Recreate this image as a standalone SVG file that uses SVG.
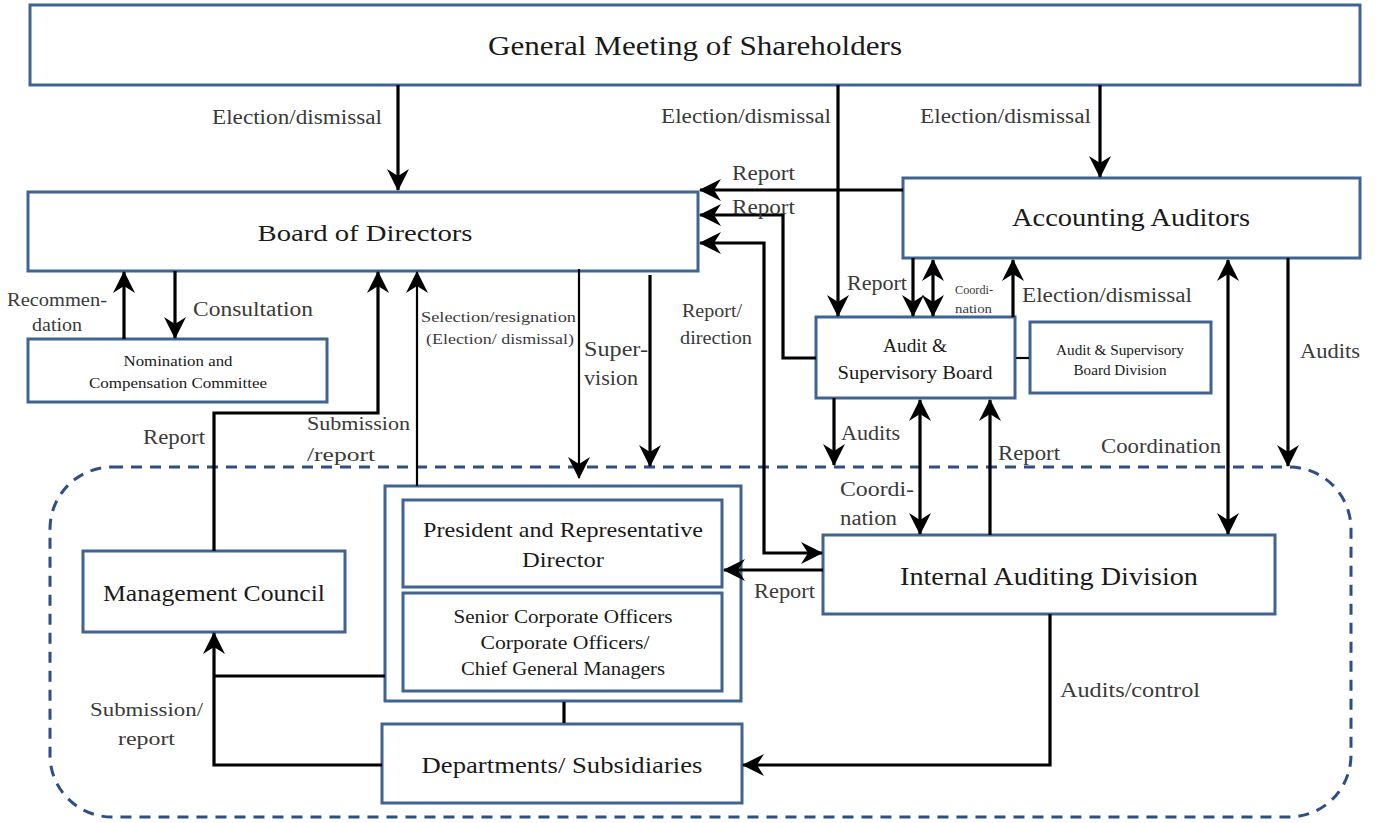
<svg xmlns="http://www.w3.org/2000/svg" width="1378" height="823" viewBox="0 0 1378 823">
<style>
.box{fill:#fff;stroke:#3f6494;stroke-width:3}
.t{font-family:"Liberation Serif","DejaVu Serif",serif;fill:#1a1a1a;text-anchor:middle}
.l{font-family:"Liberation Serif","DejaVu Serif",serif;fill:#3a3a3a}
.c{fill:none;stroke:#000;stroke-width:3.2}
.thin{stroke-width:2.2}
.a{marker-end:url(#ah)}
.b{marker-start:url(#ah);marker-end:url(#ah)}
</style>
<defs>
<marker id="ah" viewBox="0 0 22 24" refX="21" refY="12" markerWidth="22" markerHeight="24" markerUnits="userSpaceOnUse" orient="auto-start-reverse">
<path d="M0,1 L22,12 L0,23 L7,12 z" fill="#000"/>
</marker>
</defs>
<rect x="0" y="0" width="1378" height="823" fill="#fff"/>

<g id="scope">
<rect x="50" y="467" width="1301" height="350" rx="62" ry="62" fill="none" stroke="#2b4f86" stroke-width="3" stroke-dasharray="11 8"/>
</g>

<g id="gms">
<rect class="box" x="30" y="5" width="1330" height="80"/>
<text class="t" x="695" y="55" font-size="27" textLength="414" lengthAdjust="spacingAndGlyphs">General Meeting of Shareholders</text>
</g>
<g id="bod">
<rect class="box" x="28" y="192" width="670" height="79"/>
<text class="t" x="365" y="241" font-size="23" textLength="215" lengthAdjust="spacingAndGlyphs">Board of Directors</text>
</g>
<g id="aa">
<rect class="box" x="903" y="178" width="457" height="80"/>
<text class="t" x="1131" y="226" font-size="25" textLength="238" lengthAdjust="spacingAndGlyphs">Accounting Auditors</text>
</g>
<g id="asb">
<rect class="box" x="816" y="317" width="199" height="81"/>
<text class="t" x="915" y="352" font-size="18" textLength="64" lengthAdjust="spacingAndGlyphs">Audit &amp;</text>
<text class="t" x="915" y="379" font-size="18" textLength="155" lengthAdjust="spacingAndGlyphs">Supervisory Board</text>
</g>
<g id="asbd">
<rect class="box" x="1030" y="322" width="181" height="71"/>
<text class="t" x="1120" y="355" font-size="14" textLength="128" lengthAdjust="spacingAndGlyphs">Audit &amp; Supervisory</text>
<text class="t" x="1120" y="375" font-size="14" textLength="93" lengthAdjust="spacingAndGlyphs">Board Division</text>
</g>
<g id="ncc">
<rect class="box" x="28" y="339" width="299" height="63"/>
<text class="t" x="178" y="366" font-size="14.5" textLength="109" lengthAdjust="spacingAndGlyphs">Nomination and</text>
<text class="t" x="178" y="388" font-size="14.5" textLength="178" lengthAdjust="spacingAndGlyphs">Compensation Committee</text>
</g>
<g id="mc">
<rect class="box" x="83" y="551" width="262" height="81"/>
<text class="t" x="214" y="601" font-size="23" textLength="222" lengthAdjust="spacingAndGlyphs">Management Council</text>
</g>
<g id="exec">
<rect class="box" x="385" y="486" width="356" height="215"/>
</g>
<g id="president">
<rect class="box" x="403" y="500" width="319" height="87"/>
<text class="t" x="563" y="537" font-size="21" textLength="280" lengthAdjust="spacingAndGlyphs">President and Representative</text>
<text class="t" x="563" y="567" font-size="21" textLength="82" lengthAdjust="spacingAndGlyphs">Director</text>
</g>
<g id="officers">
<rect class="box" x="403" y="593" width="319" height="98"/>
<text class="t" x="563" y="623" font-size="18" textLength="219" lengthAdjust="spacingAndGlyphs">Senior Corporate Officers</text>
<text class="t" x="565" y="649" font-size="18" textLength="169" lengthAdjust="spacingAndGlyphs">Corporate Officers/</text>
<text class="t" x="563" y="675" font-size="18" textLength="204" lengthAdjust="spacingAndGlyphs">Chief General Managers</text>
</g>
<g id="depts">
<rect class="box" x="382" y="724" width="360" height="79"/>
<text class="t" x="562" y="773" font-size="23" textLength="281" lengthAdjust="spacingAndGlyphs">Departments/ Subsidiaries</text>
</g>
<g id="iad">
<rect class="box" x="823" y="535" width="452" height="79"/>
<text class="t" x="1049" y="585" font-size="25" textLength="298" lengthAdjust="spacingAndGlyphs">Internal Auditing Division</text>
</g>

<g id="connectors">
<path class="c a" d="M398,85 V190"/>
<path class="c a" d="M838,85 V316"/>
<path class="c a" d="M1100,85 V177"/>
<path class="c a" d="M903,190 H700"/>
<path class="c a" d="M816,358 H783 V215 H700"/>
<path class="c b" d="M700,243 H764 V553 H822"/>
<path class="c a" d="M913,258 V316"/>
<path class="c b" d="M933,260 V316"/>
<path class="c a" d="M1013,317 V260"/>
<path class="c a" d="M1288,258 V466"/>
<path class="c b" d="M1228,260 V534"/>
<path class="c a" d="M834,398 V465"/>
<path class="c b" d="M920,400 V534"/>
<path class="c a" d="M990,535 V400"/>
<path class="c a" d="M823,570 H724"/>
<path class="c a" d="M1050,614 V765 H743"/>
<path class="c a" d="M124,339 V272"/>
<path class="c a" d="M175,271 V338"/>
<path class="c a" d="M214,551 V413 H378 V272"/>
<path class="c thin a" d="M417,486 V272"/>
<path class="c thin a" d="M579,269 V478"/>
<path class="c a" d="M650,275 V466"/>
<path class="c" d="M385,676 H214"/>
<path class="c a" d="M382,765 H214 V633"/>
<path class="c" d="M564,702 V723"/>
<path class="c thin" d="M1016,358 H1029"/>
</g>

<g id="labels">
<text class="l" x="212" y="124" font-size="20" textLength="170" lengthAdjust="spacingAndGlyphs">Election/dismissal</text>
<text class="l" x="661" y="123" font-size="20" textLength="170" lengthAdjust="spacingAndGlyphs">Election/dismissal</text>
<text class="l" x="920" y="123" font-size="20" textLength="171" lengthAdjust="spacingAndGlyphs">Election/dismissal</text>
<text class="l" x="732" y="180" font-size="20" textLength="63" lengthAdjust="spacingAndGlyphs">Report</text>
<text class="l" x="732" y="214" font-size="20" textLength="63" lengthAdjust="spacingAndGlyphs">Report</text>
<text class="l" x="847" y="290" font-size="20" textLength="60" lengthAdjust="spacingAndGlyphs">Report</text>
<text class="l" x="955" y="294" font-size="12.5" textLength="38" lengthAdjust="spacingAndGlyphs">Coordi-</text>
<text class="l" x="955" y="313" font-size="12.5" textLength="37" lengthAdjust="spacingAndGlyphs">nation</text>
<text class="l" x="1022" y="302" font-size="20" textLength="170" lengthAdjust="spacingAndGlyphs">Election/dismissal</text>
<text class="l" x="1300" y="358" font-size="20" textLength="60" lengthAdjust="spacingAndGlyphs">Audits</text>
<text class="l" x="1101" y="453" font-size="20" textLength="120" lengthAdjust="spacingAndGlyphs">Coordination</text>
<text class="l" x="841" y="440" font-size="20" textLength="59" lengthAdjust="spacingAndGlyphs">Audits</text>
<text class="l" x="998" y="460" font-size="20" textLength="62" lengthAdjust="spacingAndGlyphs">Report</text>
<text class="l" x="840" y="496" font-size="20" textLength="74" lengthAdjust="spacingAndGlyphs">Coordi-</text>
<text class="l" x="840" y="525" font-size="20" textLength="57" lengthAdjust="spacingAndGlyphs">nation</text>
<text class="l" x="754" y="598" font-size="20" textLength="61" lengthAdjust="spacingAndGlyphs">Report</text>
<text class="l" x="1060" y="697" font-size="20" textLength="140" lengthAdjust="spacingAndGlyphs">Audits/control</text>
<text class="l" x="682" y="317" font-size="18" textLength="60" lengthAdjust="spacingAndGlyphs">Report/</text>
<text class="l" x="680" y="344" font-size="18" textLength="72" lengthAdjust="spacingAndGlyphs">direction</text>
<text class="l" x="584" y="356" font-size="20" textLength="64" lengthAdjust="spacingAndGlyphs">Super-</text>
<text class="l" x="584" y="385" font-size="20" textLength="54" lengthAdjust="spacingAndGlyphs">vision</text>
<text class="l" x="421" y="322" font-size="15" textLength="155" lengthAdjust="spacingAndGlyphs">Selection/resignation</text>
<text class="l" x="426" y="344" font-size="15" textLength="148" lengthAdjust="spacingAndGlyphs">(Election/ dismissal)</text>
<text class="l" x="7" y="306" font-size="18" textLength="100" lengthAdjust="spacingAndGlyphs">Recommen-</text>
<text class="l" x="32" y="331" font-size="18" textLength="50" lengthAdjust="spacingAndGlyphs">dation</text>
<text class="l" x="193" y="316" font-size="20" textLength="120" lengthAdjust="spacingAndGlyphs">Consultation</text>
<text class="l" x="143" y="444" font-size="20" textLength="62" lengthAdjust="spacingAndGlyphs">Report</text>
<text class="l" x="307" y="430" font-size="19" textLength="103" lengthAdjust="spacingAndGlyphs">Submission</text>
<text class="l" x="307" y="461" font-size="19" textLength="68" lengthAdjust="spacingAndGlyphs">/report</text>
<text class="l" x="90" y="716" font-size="19" textLength="113" lengthAdjust="spacingAndGlyphs">Submission/</text>
<text class="l" x="118" y="745" font-size="19" textLength="57" lengthAdjust="spacingAndGlyphs">report</text>
</g>
</svg>
